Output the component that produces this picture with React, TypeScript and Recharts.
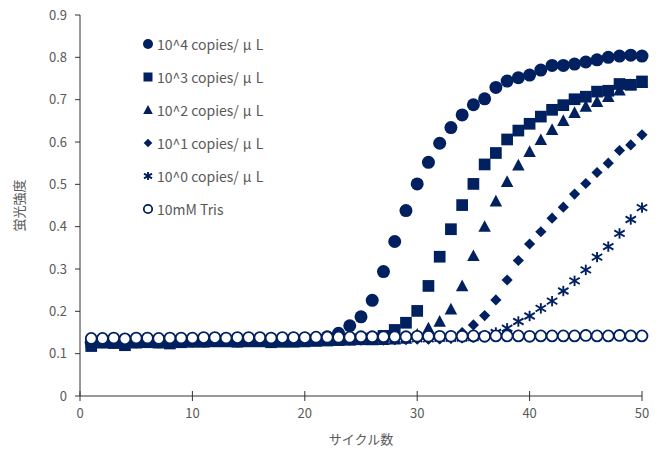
import React from "react";
import { ScatterChart, Scatter, XAxis, YAxis, Label } from "recharts";

const cycles = [
  1, 2, 3, 4, 5, 6, 7, 8, 9, 10, 11, 12, 13, 14, 15, 16, 17, 18, 19, 20, 21, 22, 23, 24, 25,
  26, 27, 28, 29, 30, 31, 32, 33, 34, 35, 36, 37, 38, 39, 40, 41, 42, 43, 44, 45, 46, 47, 48, 49, 50,
];

const copies4 = [
  0.125, 0.128, 0.127, 0.126, 0.128, 0.129, 0.128, 0.127, 0.13, 0.13,
  0.13, 0.131, 0.131, 0.13, 0.132, 0.131, 0.131, 0.131, 0.133, 0.134,
  0.136, 0.14, 0.148, 0.166, 0.187, 0.226, 0.294, 0.365, 0.438, 0.501,
  0.552, 0.597, 0.634, 0.664, 0.688, 0.702, 0.729, 0.744, 0.752, 0.758,
  0.77, 0.781, 0.781, 0.784, 0.789, 0.794, 0.8, 0.803, 0.805, 0.803,
];
const copies3 = [
  0.118, 0.126, 0.125, 0.12, 0.126, 0.127, 0.126, 0.124, 0.127, 0.128,
  0.128, 0.129, 0.129, 0.128, 0.129, 0.129, 0.127, 0.128, 0.128, 0.129,
  0.13, 0.131, 0.132, 0.133, 0.134, 0.136, 0.142, 0.156, 0.173, 0.201,
  0.26, 0.329, 0.394, 0.451, 0.501, 0.547, 0.574, 0.606, 0.627, 0.643,
  0.66, 0.676, 0.687, 0.701, 0.707, 0.719, 0.721, 0.737, 0.735, 0.743,
];
const copies2 = [
  0.127, 0.128, 0.126, 0.127, 0.128, 0.129, 0.128, 0.127, 0.129, 0.129,
  0.13, 0.13, 0.129, 0.13, 0.13, 0.131, 0.13, 0.129, 0.13, 0.131,
  0.131, 0.131, 0.132, 0.132, 0.133, 0.132, 0.133, 0.134, 0.136, 0.145,
  0.16, 0.176, 0.205, 0.26, 0.331, 0.4, 0.46, 0.506, 0.545, 0.577,
  0.605, 0.629, 0.65, 0.669, 0.684, 0.695, 0.707, 0.722, 0.735, 0.74,
];
const copies1 = [
  0.128, 0.129, 0.128, 0.129, 0.129, 0.13, 0.129, 0.128, 0.13, 0.13,
  0.13, 0.131, 0.13, 0.13, 0.131, 0.131, 0.13, 0.13, 0.131, 0.131,
  0.131, 0.132, 0.132, 0.132, 0.132, 0.133, 0.132, 0.133, 0.133, 0.134,
  0.134, 0.135, 0.138, 0.15, 0.168, 0.19, 0.227, 0.274, 0.32, 0.359,
  0.388, 0.42, 0.446, 0.477, 0.502, 0.528, 0.55, 0.58, 0.593, 0.617,
];
const copies0 = [
  0.129, 0.13, 0.129, 0.13, 0.13, 0.13, 0.13, 0.129, 0.13, 0.131,
  0.131, 0.131, 0.13, 0.131, 0.131, 0.132, 0.131, 0.131, 0.132, 0.132,
  0.132, 0.133, 0.133, 0.133, 0.134, 0.134, 0.134, 0.134, 0.135, 0.135,
  0.135, 0.136, 0.136, 0.137, 0.138, 0.143, 0.15, 0.16, 0.176, 0.189,
  0.207, 0.224, 0.248, 0.272, 0.298, 0.328, 0.353, 0.384, 0.417, 0.445,
];
const tris = [
  0.136, 0.136, 0.137, 0.135, 0.137, 0.137, 0.136, 0.137, 0.137, 0.137,
  0.138, 0.138, 0.137, 0.138, 0.138, 0.138, 0.137, 0.138, 0.138, 0.138,
  0.139, 0.139, 0.139, 0.139, 0.14, 0.14, 0.14, 0.14, 0.14, 0.141,
  0.141, 0.141, 0.141, 0.141, 0.142, 0.141, 0.142, 0.142, 0.142, 0.141,
  0.142, 0.142, 0.142, 0.142, 0.143, 0.142, 0.142, 0.143, 0.142, 0.142,
];

// legend labels: prefix + "μL" (μ drawn with extra spacing like the original)
const seriesNames = [
  "10^4 copies/μL",
  "10^3 copies/μL",
  "10^2 copies/μL",
  "10^1 copies/μL",
  "10^0 copies/μL",
  "10mM Tris",
];
const seriesValues = [copies4, copies3, copies2, copies1, copies0, tris];

const xTicks = [0, 10, 20, 30, 40, 50];
const yTicks = [0, 0.1, 0.2, 0.3, 0.4, 0.5, 0.6, 0.7, 0.8, 0.9];

const NAVY = "#002060";
const TEXT = "#595959";
const FONT = "'Noto Sans CJK JP', 'Noto Sans', sans-serif";

type Mk = (cx: number, cy: number, s: number) => React.ReactElement;

const markers: Mk[] = [
  (cx, cy, s) => <circle cx={cx} cy={cy} r={s * 0.5} fill={NAVY} />,
  (cx, cy, s) => <rect x={cx - s * 0.45} y={cy - s * 0.45} width={s * 0.9} height={s * 0.9} fill={NAVY} />,
  (cx, cy, s) => (
    <polygon
      points={`${cx},${cy - s * 0.5} ${cx + s * 0.48},${cy + s * 0.4} ${cx - s * 0.48},${cy + s * 0.4}`}
      fill={NAVY}
    />
  ),
  (cx, cy, s) => (
    <polygon
      points={`${cx},${cy - s * 0.43} ${cx + s * 0.43},${cy} ${cx},${cy + s * 0.43} ${cx - s * 0.43},${cy}`}
      fill={NAVY}
    />
  ),
  (cx, cy, s) => {
    const h = s * 0.4;
    return (
      <g stroke={NAVY} strokeWidth={1.9}>
        <line x1={cx} y1={cy - h} x2={cx} y2={cy + h} />
        <line x1={cx - h} y1={cy - h * 0.6} x2={cx + h} y2={cy + h * 0.6} />
        <line x1={cx - h} y1={cy + h * 0.6} x2={cx + h} y2={cy - h * 0.6} />
      </g>
    );
  },
  (cx, cy, s) => <circle cx={cx} cy={cy} r={s * 0.42} fill="#fff" stroke={NAVY} strokeWidth={1.8} />,
];

const XTick = (props: any) => {
  const { x, y, payload } = props;
  const axisY = y - 12;
  return (
    <g>
      <line x1={x} x2={x} y1={axisY - 5} y2={axisY + 5} stroke="#333" />
      <text x={x} y={y + 10} textAnchor="middle" fill={TEXT} fontSize={13} fontFamily={FONT}>
        {payload.value}
      </text>
    </g>
  );
};

const legendText = (name: string) => {
  const i = name.indexOf("μ");
  if (i < 0) return name;
  return (
    <>
      {name.slice(0, i)}
      <tspan dx={4}>μ</tspan>
      <tspan dx={4}>{name.slice(i + 1)}</tspan>
    </>
  );
};

export default function App() {
  return (
    <div style={{ position: "absolute", left: 0, top: 0, width: 663, height: 450, background: "#fff" }}>
      <ScatterChart width={663} height={450} margin={{ top: 15, right: 21, bottom: 0, left: 0 }}>
        <XAxis
          type="number"
          dataKey="x"
          domain={[0, 50]}
          ticks={xTicks}
          tickLine={false}
          tickSize={5}
          tickMargin={7}
          height={54}
          axisLine={{ stroke: "#333" }}
          tick={<XTick />}
        >
          <Label value="サイクル数" position="insideBottom" offset={6} fill={TEXT} fontSize={13} fontFamily={FONT} />
        </XAxis>
        <YAxis
          type="number"
          dataKey="y"
          domain={[0, 0.9]}
          ticks={yTicks}
          width={80}
          tickSize={5}
          tickMargin={8}
          axisLine={{ stroke: "#333" }}
          tickLine={{ stroke: "#333" }}
          tick={{ fill: TEXT, fontSize: 13, fontFamily: FONT }}
          tickFormatter={(v: number) => (v === 0 ? "0" : v.toFixed(1))}
        >
          <Label
            content={({ viewBox }: any) => (
              <text
                x={18}
                y={viewBox.y + viewBox.height / 2}
                transform={`rotate(-90, 18, ${viewBox.y + viewBox.height / 2})`}
                textAnchor="middle"
                dominantBaseline="central"
                fill={TEXT}
                fontSize={13}
                fontFamily={FONT}
              >
                蛍光強度
              </text>
            )}
          />
        </YAxis>
        {seriesValues.map((vals, si) => (
          <Scatter
            key={seriesNames[si]}
            name={seriesNames[si]}
            data={cycles.map((c, i) => ({ x: c, y: vals[i] }))}
            isAnimationActive={false}
            shape={(p: any) => markers[si](p.cx, p.cy, 13)}
          />
        ))}
      </ScatterChart>
      <svg width={663} height={450} style={{ position: "absolute", left: 0, top: 0, pointerEvents: "none" }}>
        {seriesNames.map((name, si) => {
          const cy = 44 + si * 33;
          return (
            <g key={name}>
              {markers[si](148, cy, 10)}
              <text x={157} y={cy} dominantBaseline="central" fill={TEXT} fontSize={14} fontFamily={FONT}>
                {legendText(name)}
              </text>
            </g>
          );
        })}
      </svg>
    </div>
  );
}
